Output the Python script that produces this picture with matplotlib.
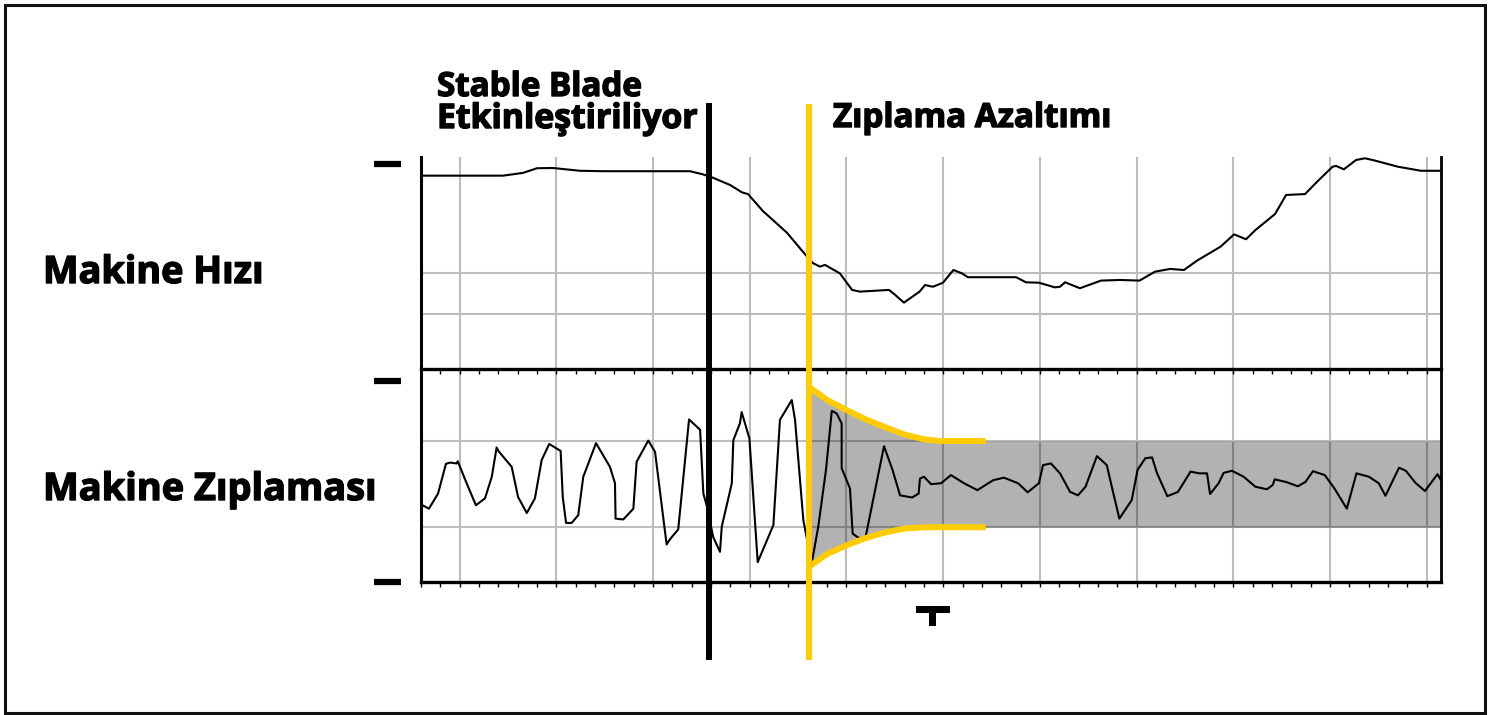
import matplotlib
matplotlib.use("Agg")
import matplotlib.pyplot as plt
import matplotlib.transforms as mtransforms
import matplotlib.patheffects as pe
from matplotlib.lines import Line2D
from matplotlib.patches import Rectangle
import numpy as np

plt.rcParams['font.family'] = ['Open Sans', 'DejaVu Sans']

# time axis in minor-tick units
x_max = 52.74
grid_t = [2, 7, 12, 17, 22, 27, 32, 37, 42, 47, 52]
t_blade = 14.9      # Stable Blade on
t_reduce = 20.05    # bounce reduction starts

# machine speed (top panel, 0..100)
speed_t = [0, 4.24, 5.27, 6.0, 6.83, 8.22, 9.41, 13.91, 14.58, 15.1,
           15.98, 16.6, 16.91, 17.68, 18.92, 19.96, 20.27, 20.63, 20.89, 21.66,
           22.29, 22.7, 24.2, 24.46, 24.97, 25.78, 26.06, 26.47, 26.99, 27.53,
           27.97, 28.28, 30.77, 31.28, 31.95, 32.78, 33.04, 33.3, 33.66, 34.07,
           35.16, 36.14, 37.15, 37.95, 38.73, 39.45, 40.12, 41.34, 42.04, 42.66,
           43.15, 44.16, 44.73, 45.71, 46.33, 47.13, 47.31, 47.72, 48.35, 48.81,
           49.33, 50.52, 51.71, 52.74]
speed_v = [91.2, 91.2, 92.5, 94.7, 94.8, 93.5, 93.3, 93.3, 91.8, 90.2,
           86.8, 83.3, 82.5, 74.5, 64.3, 53.0, 49.9, 48.3, 49.1, 45.1,
           37.3, 36.5, 37.3, 35.4, 31.3, 36.5, 39.6, 38.8, 40.7, 46.7,
           45.1, 43.3, 43.3, 40.9, 40.7, 38.5, 38.8, 40.9, 39.6, 38.1,
           41.7, 42.0, 41.7, 45.9, 47.2, 46.7, 51.1, 57.7, 63.5, 61.2,
           65.6, 73.1, 82.1, 82.5, 88.3, 95.4, 95.8, 94.2, 98.6, 99.4,
           98.3, 95.4, 93.5, 93.5]
speed_grid = [25.9, 45.3]

# machine bounce (bottom panel, band = +-1)
bounce_t = [0.0, 0.41, 0.88, 1.29, 1.5, 1.85, 1.9, 2.36, 2.84, 3.31,
            3.66, 3.91, 4.0, 4.69, 5.02, 5.47, 5.89, 6.24, 6.63, 7.22,
            7.33, 7.5, 7.79, 8.13, 8.39, 9.05, 9.77, 10.03, 10.06, 10.46,
            10.98, 11.15, 11.75, 12.1, 12.7, 12.87, 13.3, 13.86, 14.43, 14.6,
            14.77, 15.11, 15.46, 15.55, 16.07, 16.15, 16.49, 16.58, 16.98, 17.41,
            18.22, 18.56, 19.17, 19.34, 19.77, 20.2, 20.54, 20.94, 21.24, 21.49,
            21.75, 21.75, 22.18, 22.32, 22.61, 22.96, 23.94, 24.38, 24.77, 25.39,
            25.73, 25.8, 26.01, 26.37, 26.89, 27.4, 28.08, 28.77, 29.58, 30.14,
            30.87, 31.37, 31.95, 32.16, 32.57, 33.04, 33.56, 33.97, 34.36, 34.95,
            35.46, 35.76, 36.11, 36.75, 37.05, 37.45, 37.8, 38.06, 38.59, 39.14,
            39.79, 40.24, 40.64, 40.8, 41.24, 41.5, 41.93, 42.54, 43.14, 43.74,
            44.04, 44.14, 44.73, 45.34, 45.73, 46.12, 46.73, 47.23, 47.87, 48.37,
            49.02, 49.52, 49.87, 50.57, 50.92, 51.42, 51.91, 52.56, 52.74]
bounce_v = [-0.47, -0.57, -0.22, 0.47, 0.5, 0.48, 0.53, 0.02, -0.49, -0.33,
            0.17, 0.85, 0.77, 0.4, -0.3, -0.67, -0.33, 0.56, 0.93, 0.77,
            -0.3, -0.9, -0.9, -0.72, 0.17, 0.95, 0.4, 0.02, -0.8, -0.82,
            -0.57, 0.52, 1.01, 0.75, -1.4, -1.28, -1.05, 1.5, 1.26, -0.22,
            -0.49, -1.23, -1.57, -0.99, 0.02, 1.02, 1.41, 1.67, 1.06, -1.81,
            -0.95, 1.49, 1.95, 1.49, -0.84, -1.84, -0.99, 0.33, 1.7, 1.64,
            1.41, 0.37, -0.1, -1.15, -1.24, -1.29, 0.88, 0.33, -0.26, -0.31,
            -0.22, 0.13, 0.17, 0.0, 0.02, 0.21, 0.02, -0.14, 0.09, 0.15,
            0.02, -0.19, 0.02, 0.44, 0.48, 0.25, -0.18, -0.26, -0.06, 0.65,
            0.44, -0.14, -0.8, -0.37, 0.33, 0.6, 0.62, 0.25, -0.28, -0.18,
            0.29, 0.25, 0.25, -0.23, 0.02, 0.26, 0.31, 0.17, -0.06, -0.12,
            -0.02, 0.11, 0.05, -0.05, 0.05, 0.3, 0.21, -0.1, -0.57, 0.25,
            0.17, 0.02, -0.27, 0.38, 0.31, 0.03, -0.16, 0.23, 0.09]
band = [-1.0, 1.0]

# yellow envelope of the bounce reduction
env_t = [20.05, 21.0, 22.0, 23.0, 24.0, 25.0, 26.0, 26.8, 29.2]
env_hi = [2.26, 1.95, 1.72, 1.5, 1.32, 1.15, 1.04, 1.0, 1.0]
env_lo = [-1.92, -1.62, -1.42, -1.25, -1.12, -1.03, -1.0, -1.0, -1.0]

YELLOW = '#ffcc00'
GRID = '#bdbdbd'

W, H = 1505, 715
fig = plt.figure(figsize=(W / 100, H / 100), dpi=100)


def fx(px):
    return px / W


def fy(py):
    return 1 - py / H


ax_bot = fig.add_axes([fx(421), fy(582), fx(1441) - fx(421), fy(369) - fy(582)])
ax_top = fig.add_axes([fx(421), fy(369), fx(1441) - fx(421), fy(157) - fy(369)])

for ax in (ax_top, ax_bot):
    ax.set_facecolor('none')
    ax.set_xlim(0, x_max)
    ax.set_xticks(np.arange(0, 53, 1))
    ax.tick_params(axis='x', direction='out', length=3.5, width=1, labelbottom=False)
    ax.set_yticks([])
    for g in grid_t:
        ax.axvline(g, color=GRID, lw=1.5, zorder=0)
    ax.spines['left'].set_linewidth(2.2)
    ax.spines['bottom'].set_linewidth(2.4)
    ax.spines['right'].set_linewidth(2.0)
    ax.spines['top'].set_visible(False)

ax_top.set_ylim(0, 100)
for g in speed_grid:
    ax_top.axhline(g, color=GRID, lw=1.5, zorder=0)
ax_top.plot(speed_t, speed_v, color='black', lw=1.5, zorder=3,
            solid_joinstyle='round')

ax_bot.set_ylim(-2.27, 2.67)
for g in band:
    ax_bot.axhline(g, color=GRID, lw=1.5, zorder=0)
fill_t = env_t + [x_max]
ax_bot.fill_between(fill_t, env_lo + [band[0]], env_hi + [band[1]],
                    color='black', alpha=0.3, lw=0, zorder=1)
ax_bot.plot(bounce_t, bounce_v, color='black', lw=1.5, zorder=3,
            solid_joinstyle='round')
ax_bot.plot(env_t, env_hi, color=YELLOW, lw=4.3, zorder=4, solid_capstyle='butt')
ax_bot.plot(env_t, env_lo, color=YELLOW, lw=4.3, zorder=4, solid_capstyle='butt')

# event lines running past the panels
trans = mtransforms.blended_transform_factory(ax_top.transData, fig.transFigure)
fig.add_artist(Line2D([t_blade, t_blade], [fy(660), fy(103)], transform=trans,
                      color='black', lw=4.3, solid_capstyle='butt', zorder=5))
fig.add_artist(Line2D([t_reduce, t_reduce], [fy(660), fy(104)], transform=trans,
                      color=YELLOW, lw=4.3, solid_capstyle='butt', zorder=5))

# left dashes
for py in (164, 381.5, 581.5):
    fig.add_artist(Line2D([fx(374), fx(401)], [fy(py), fy(py)], color='black',
                          lw=4.5, solid_capstyle='butt'))

# T marker
fig.add_artist(Rectangle((fx(916), fy(612.7)), fx(950) - fx(916), fy(606) - fy(612.7),
                         transform=fig.transFigure, color='black', lw=0))
fig.add_artist(Rectangle((fx(929), fy(625.7)), fx(936) - fx(929), fy(612.7) - fy(625.7),
                         transform=fig.transFigure, color='black', lw=0))

# outer frame
fig.add_artist(Rectangle((fx(4.5), fy(712.5)), fx(1484.7) - fx(4.5), fy(4.5) - fy(712.5),
                         transform=fig.transFigure, fill=False, edgecolor='#111111', lw=2.2))

renderer = fig.canvas.get_renderer()
heavy = [pe.withStroke(linewidth=1.0, foreground='black')]


def label(px, py, s, width_px):
    t = fig.text(fx(px), fy(py), s, fontsize=24, fontweight='bold',
                 ha='left', va='baseline', path_effects=heavy)
    w = t.get_window_extent(renderer).width
    t.set_fontsize(24 * width_px / w)
    return t


label(437, 96, 'Stable Blade', 205)
label(437, 128, 'Etkinleştiriliyor', 261)
label(833, 127, 'Zıplama Azaltımı', 279)
label(43, 283, 'Makine Hızı', 221)
label(43, 500, 'Makine Zıplaması', 334)

fig.savefig('out.png', dpi=100)
